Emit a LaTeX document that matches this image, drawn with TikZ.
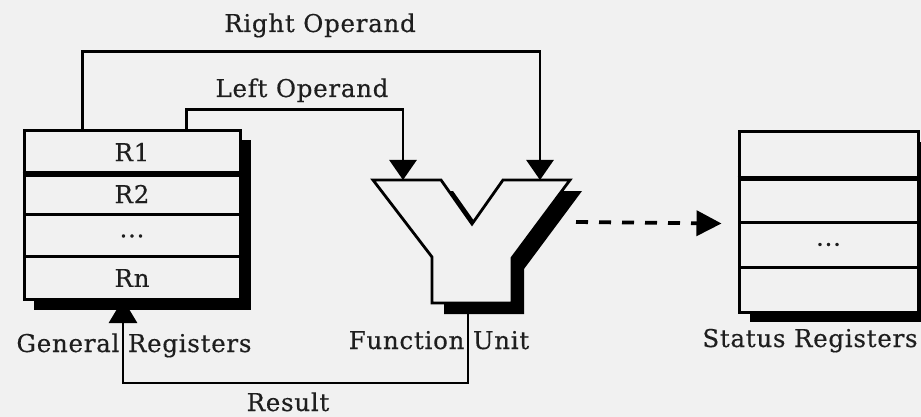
\documentclass[tikz,border=0pt]{standalone}
\usepackage{fontspec}
\newfontfamily\labelfont[LetterSpace=3, FakeBold=0.4]{DejaVu Serif}
\usetikzlibrary{arrows.meta}
\definecolor{paper}{RGB}{241,241,241}
\definecolor{ink}{RGB}{30,30,30}

\begin{document}
\begin{tikzpicture}[x=1pt,y=-1pt,
  txt/.style={font=\labelfont\fontsize{24.5}{24.5}\selectfont, text=ink, inner sep=0pt},
  caption/.style={txt, anchor=base},
  grrow/.style={txt, draw=black, line width=3pt, fill=paper,
    minimum width=216pt, minimum height=42.25pt},
  srrow/.style={txt, draw=black, line width=3pt, fill=paper,
    minimum width=179pt, minimum height=45pt},
  shadow/.style={fill=black, draw=none},
  wire/.style={draw=black, line width=2.8pt},
  tip/.style={-{Triangle[length=20pt, width=27pt]}},
  dotwire/.style={draw=black, line width=3.8pt, dash pattern=on 12pt off 11pt,
    -{Triangle[length=25pt, width=25pt]}},
  unitbody/.style={draw=black, line width=2.8pt, fill=paper, line join=miter}
]
% page
\fill[paper] (0,0) rectangle (921,417);
\clip (0,0) rectangle (921,417);

% named points on the function unit outline
\coordinate (fuL) at (403,180);
\coordinate (fuR) at (540,180);
\coordinate (fuB) at (468,303);
\coordinate (fuOut) at (576,222);

% result path runs underneath the register shadow
\coordinate (resIn) at (123,299);
\draw[wire, -{Triangle[length=24pt, width=28pt]}] (fuB) -- ++(0,80) -| (resIn);

% ---------- general registers ----------
\fill[shadow] (34,140) rectangle (251,310);
\node[grrow] (gr1) at (132,152) {R1};
\node[grrow] (gr2) at (132,194) {R2};
\node[grrow] (gr3) at (132,236) {...};
\node[grrow] (grN) at (132,278) {Rn};
\draw[line width=4.4pt] (gr1.south west) -- (gr1.south east);

% ---------- status registers ----------
\fill[shadow] (750,142) rectangle (935,322);
\node[srrow] (sr1) at (828.5,154.5) {};
\node[srrow] (sr2) at (828.5,199.5) {};
\node[srrow] (sr3) at (828.5,244.5) {...};
\node[srrow] (sr4) at (828.5,289.5) {};
\draw[line width=4.4pt] (sr1.south west) -- (sr1.south east);

% ---------- function unit ----------
\begin{scope}[shift={(12,11)}]
  \fill[shadow] (373,180) -- (441,180) -- (472,224) -- (503,180) -- (570,180)
    -- (512,258) -- (512,303) -- (432,303) -- (432,257) -- cycle;
\end{scope}
\draw[unitbody] (373,180) -- (441,180) -- (472,224) -- (503,180) -- (570,180)
    -- (512,258) -- (512,303) -- (432,303) -- (432,257) -- cycle;

% ---------- operand paths ----------
\draw[wire, tip] ([xshift=60pt]gr1.north west) -- ++(0,-78) -| (fuR);
\draw[wire, tip] ([xshift=164pt]gr1.north west) -- ++(0,-20) -| (fuL);

% status output
\draw[dotwire] (fuOut) -- ([xshift=-16pt]sr2.south west);

% ---------- labels ----------
\node[caption] (lblRight) at (320,32) {Right Operand};
\node[caption] (lblLeft) at (302,97) {Left Operand};
\node[caption] (lblGR) at (134,352) {General Registers};
\node[caption] (lblFU) at (439,349) {Function Unit};
\node[caption] (lblSR) at (810,347) {Status Registers};
\node[caption] (lblRes) at (288,411) {Result};
\end{tikzpicture}
\end{document}
